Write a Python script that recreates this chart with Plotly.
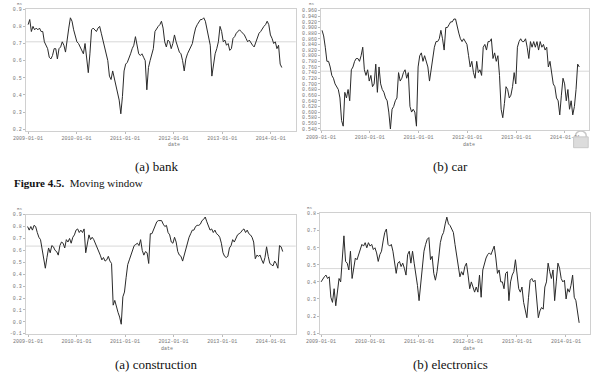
import pandas as pd
import plotly.graph_objects as go

# ---------------- data ----------------
bank_values = [
    0.81, 0.84, 0.77, 0.80, 0.78, 0.79, 0.78, 0.79, 0.77, 0.77,
    0.71, 0.69, 0.67, 0.62, 0.61, 0.63, 0.67, 0.67, 0.61, 0.67,
    0.68, 0.71, 0.69, 0.65, 0.74, 0.79, 0.85, 0.83, 0.78, 0.75,
    0.71, 0.70, 0.68, 0.66, 0.64, 0.70, 0.60, 0.53, 0.64, 0.78,
    0.79, 0.78, 0.77, 0.79, 0.80, 0.76, 0.72, 0.69, 0.64, 0.60,
    0.51, 0.49, 0.54, 0.50, 0.45, 0.41, 0.37, 0.29, 0.39, 0.54,
    0.58, 0.59, 0.61, 0.64, 0.67, 0.69, 0.74, 0.69, 0.64, 0.63,
    0.64, 0.62, 0.60, 0.43, 0.56, 0.60, 0.64, 0.67, 0.77, 0.79,
    0.80, 0.81, 0.83, 0.79, 0.71, 0.68, 0.72, 0.71, 0.67, 0.70,
    0.75, 0.71, 0.68, 0.65, 0.64, 0.60, 0.54, 0.61, 0.64, 0.66,
    0.68, 0.70, 0.75, 0.79, 0.81, 0.83, 0.84, 0.84, 0.85, 0.83,
    0.78, 0.73, 0.69, 0.51, 0.59, 0.64, 0.67, 0.71, 0.80, 0.77,
    0.71, 0.72, 0.69, 0.70, 0.66, 0.67, 0.73, 0.74, 0.76, 0.77,
    0.78, 0.77, 0.76, 0.75, 0.73, 0.71, 0.72, 0.70, 0.69, 0.68,
    0.71, 0.73, 0.76, 0.77, 0.79, 0.80, 0.81, 0.83, 0.81, 0.75,
    0.73, 0.70, 0.71, 0.67, 0.69, 0.58, 0.56,
]

car_values = [
    0.89, 0.87, 0.83, 0.78, 0.78, 0.76, 0.73, 0.72, 0.70, 0.69,
    0.68, 0.65, 0.57, 0.55, 0.67, 0.65, 0.68, 0.64, 0.75, 0.76,
    0.78, 0.79, 0.79, 0.78, 0.80, 0.83, 0.75, 0.73, 0.75, 0.71,
    0.73, 0.69, 0.70, 0.77, 0.67, 0.76, 0.70, 0.68, 0.67, 0.65,
    0.64, 0.60, 0.54, 0.61, 0.62, 0.64, 0.65, 0.74, 0.71, 0.72,
    0.74, 0.75, 0.72, 0.74, 0.62, 0.60, 0.61, 0.60, 0.55, 0.76,
    0.80, 0.81, 0.78, 0.80, 0.78, 0.76, 0.71, 0.75, 0.80, 0.83,
    0.85, 0.85, 0.86, 0.89, 0.86, 0.82, 0.90, 0.90, 0.91, 0.92,
    0.92, 0.93, 0.93, 0.90, 0.88, 0.86, 0.85, 0.86, 0.85, 0.84,
    0.80, 0.76, 0.78, 0.74, 0.72, 0.78, 0.74, 0.75, 0.73, 0.83,
    0.84, 0.82, 0.85, 0.85, 0.86, 0.79, 0.81, 0.78, 0.80, 0.73,
    0.61, 0.58, 0.63, 0.69, 0.68, 0.65, 0.66, 0.69, 0.74, 0.70,
    0.83, 0.85, 0.86, 0.85, 0.85, 0.86, 0.83, 0.79, 0.85, 0.83,
    0.85, 0.83, 0.85, 0.82, 0.85, 0.83, 0.84, 0.82, 0.83, 0.76,
    0.78, 0.74, 0.70, 0.69, 0.65, 0.64, 0.59, 0.66, 0.72, 0.70,
    0.64, 0.68, 0.61, 0.64, 0.59, 0.62, 0.68, 0.77, 0.76,
]

construction_values = [
    0.80, 0.77, 0.80, 0.77, 0.81, 0.80, 0.75, 0.71, 0.69, 0.62,
    0.55, 0.45, 0.54, 0.62, 0.58, 0.64, 0.63, 0.60, 0.59, 0.56,
    0.64, 0.67, 0.66, 0.62, 0.69, 0.67, 0.70, 0.66, 0.71, 0.73,
    0.77, 0.78, 0.75, 0.77, 0.75, 0.78, 0.58, 0.66, 0.73, 0.69,
    0.71, 0.69, 0.66, 0.63, 0.60, 0.56, 0.52, 0.54, 0.51, 0.52,
    0.55, 0.51, 0.49, 0.14, 0.18, 0.12, 0.08, 0.04, -0.02, 0.21,
    0.25, 0.37, 0.48, 0.52, 0.56, 0.60, 0.64, 0.65, 0.66, 0.64,
    0.69, 0.60, 0.56, 0.59, 0.58, 0.49, 0.74, 0.74, 0.77, 0.81,
    0.84, 0.85, 0.85, 0.85, 0.82, 0.80, 0.81, 0.75, 0.73, 0.67,
    0.66, 0.71, 0.67, 0.59, 0.56, 0.55, 0.51, 0.56, 0.60, 0.67,
    0.71, 0.74, 0.77, 0.77, 0.80, 0.81, 0.81, 0.82, 0.85, 0.86,
    0.88, 0.84, 0.80, 0.77, 0.78, 0.75, 0.77, 0.74, 0.73, 0.71,
    0.66, 0.58, 0.55, 0.54, 0.55, 0.62, 0.64, 0.69, 0.67, 0.70,
    0.73, 0.74, 0.75, 0.77, 0.78, 0.75, 0.77, 0.74, 0.73, 0.71,
    0.67, 0.53, 0.56, 0.55, 0.56, 0.52, 0.49, 0.54, 0.63, 0.55,
    0.49, 0.48, 0.47, 0.51, 0.49, 0.45, 0.64, 0.63, 0.59,
]

electronics_values = [
    0.40, 0.42, 0.43, 0.44, 0.42, 0.43, 0.31, 0.28, 0.36, 0.26,
    0.34, 0.42, 0.40, 0.57, 0.67, 0.52, 0.51, 0.47, 0.58, 0.42,
    0.47, 0.54, 0.53, 0.56, 0.59, 0.62, 0.61, 0.63, 0.60, 0.63,
    0.61, 0.62, 0.59, 0.60, 0.57, 0.52, 0.56, 0.58, 0.64, 0.69,
    0.71, 0.62, 0.61, 0.62, 0.58, 0.51, 0.45, 0.51, 0.52, 0.49,
    0.51, 0.48, 0.44, 0.56, 0.58, 0.51, 0.58, 0.51, 0.45, 0.38,
    0.29, 0.38, 0.47, 0.58, 0.62, 0.65, 0.66, 0.53, 0.55, 0.45,
    0.41, 0.46, 0.54, 0.63, 0.67, 0.69, 0.74, 0.78, 0.74, 0.73,
    0.71, 0.69, 0.62, 0.56, 0.51, 0.43, 0.46, 0.44, 0.49, 0.51,
    0.44, 0.36, 0.40, 0.37, 0.34, 0.37, 0.34, 0.44, 0.31, 0.47,
    0.51, 0.54, 0.56, 0.57, 0.56, 0.58, 0.61, 0.54, 0.45, 0.47,
    0.40, 0.40, 0.36, 0.45, 0.46, 0.29, 0.40, 0.44, 0.46, 0.53,
    0.44, 0.36, 0.34, 0.37, 0.28, 0.24, 0.19, 0.31, 0.41, 0.42,
    0.40, 0.41, 0.32, 0.19, 0.23, 0.25, 0.24, 0.37, 0.40, 0.51,
    0.46, 0.42, 0.47, 0.29, 0.40, 0.51, 0.48, 0.42, 0.40, 0.41,
    0.30, 0.36, 0.34, 0.38, 0.44, 0.31, 0.29, 0.21, 0.16,
]

series_start = ["2009-01-01", "2009-01-08", "2008-12-28", "2009-01-01"]
series_end = ["2014-03-26", "2014-04-18", "2014-04-02", "2014-04-10"]
mean_levels = [0.71, 0.745, 0.636, 0.478]

year_ticks = ["2009-01-01", "2010-01-01", "2011-01-01",
              "2012-01-01", "2013-01-01", "2014-01-01"]
bank_yticks = [0.2, 0.3, 0.4, 0.5, 0.6, 0.7, 0.8, 0.9]
car_yticks = [0.54, 0.56, 0.58, 0.60, 0.62, 0.64, 0.66, 0.68, 0.70, 0.72, 0.74,
              0.76, 0.78, 0.80, 0.82, 0.84, 0.86, 0.88, 0.90, 0.92, 0.94, 0.96]
construction_yticks = [-0.1, 0.0, 0.1, 0.2, 0.3, 0.4, 0.5, 0.6, 0.7, 0.8, 0.9]
electronics_yticks = [0.1, 0.2, 0.3, 0.4, 0.5, 0.6, 0.7, 0.8]

captions = ["(a) bank", "(b) car", "(a) construction", "(b) electronics"]

# ---------------- layout geometry (pixels) ----------------
W, H = 596, 385
panels = [
    dict(vals=bank_values, yt=bank_yticks, fmt="%.1f", box=(11, 288, 7, 131),
         yr=[0.19, 0.902], xr=["2008-12-14", "2014-07-09"]),
    dict(vals=car_values, yt=car_yticks, fmt="%.3f", box=(314, 589, 7, 130),
         yr=[0.5365, 0.966], xr=["2009-01-01", "2014-07-01"]),
    dict(vals=construction_values, yt=construction_yticks, fmt="%.1f", box=(11, 288, 216, 337),
         yr=[-0.1, 0.9], xr=["2008-12-14", "2014-07-09"]),
    dict(vals=electronics_values, yt=electronics_yticks, fmt="%.1f", box=(313, 590, 214, 337),
         yr=[0.096, 0.806], xr=["2008-12-25", "2014-07-01"]),
]

fig = go.Figure()
tick_font = dict(family="Liberation Mono", size=5, color="#777")

for i, p in enumerate(panels):
    n = i + 1
    xa = "x" if n == 1 else f"x{n}"
    ya = "y" if n == 1 else f"y{n}"
    dates = pd.date_range(series_start[i], series_end[i], periods=len(p["vals"]))
    fig.add_trace(go.Scatter(x=dates, y=p["vals"], mode="lines",
                             line=dict(color="#2a2a2a", width=1),
                             xaxis=xa, yaxis=ya, showlegend=False))
    x0, x1, y0, y1 = p["box"]
    xkey = "xaxis" if n == 1 else f"xaxis{n}"
    ykey = "yaxis" if n == 1 else f"yaxis{n}"
    fig.update_layout(**{
        xkey: dict(domain=[x0 / W, x1 / W], anchor=ya, type="date", range=p["xr"],
                   tickvals=year_ticks, ticktext=year_ticks,
                   showline=True, mirror=True, linecolor="#d0d0d0", linewidth=1,
                   ticks="outside", ticklen=2, tickcolor="#bbb",
                   showgrid=False, zeroline=False, tickfont=tick_font),
        ykey: dict(domain=[1 - y1 / H, 1 - y0 / H], anchor=xa, range=p["yr"],
                   tickvals=p["yt"], ticktext=[p["fmt"] % v for v in p["yt"]],
                   showline=True, mirror=True, linecolor="#d0d0d0", linewidth=1,
                   ticks="outside", ticklen=2, tickcolor="#bbb",
                   showgrid=False, zeroline=False, tickfont=tick_font),
    })
    fig.add_shape(type="line", xref=f"{xa} domain", yref=ya, x0=0, x1=1,
                  y0=mean_levels[i], y1=mean_levels[i],
                  line=dict(color="#d8d8d8", width=1), layer="below")

# small grey watermark icon at the lower right of the car panel
fig.add_shape(type="rect", xref="paper", yref="paper",
              x0=573 / W, x1=588 / W, y0=1 - 148 / H, y1=1 - 137 / H,
              line=dict(color="#c8c8c8", width=1), fillcolor="#dcdcdc")
fig.add_shape(type="circle", xref="paper", yref="paper",
              x0=575 / W, x1=586 / W, y0=1 - 141 / H, y1=1 - 131 / H,
              line=dict(color="#c8c8c8", width=1.5), fillcolor="rgba(0,0,0,0)",
              layer="below")

annotations = []


def note(cx, cy, text, font, xanchor="center"):
    annotations.append(dict(x=cx / W, y=1 - cy / H, xref="paper", yref="paper",
                            xanchor=xanchor, yanchor="middle",
                            text=text, showarrow=False, font=font))


small = dict(family="Liberation Mono", size=5, color="#777")
# axis titles
for (cx, cy) in [(163, 145), (466, 145), (156, 352), (466, 352)]:
    note(cx, cy, "date", small)
for (cx, cy) in [(5, 2), (304, 2), (5, 210), (302, 209)]:
    note(cx, cy, "RS", dict(family="Liberation Mono", size=4, color="#777"))
# captions
cap_pos = [(145, 167), (447, 167), (145, 368), (447, 368)]
serif = dict(family="Liberation Serif", size=13, color="#111")
for txt, (cx, cy) in zip(captions, cap_pos):
    note(cx, cy, txt, serif)
note(-3, 184, "<b>Figure 4.5.</b>  Moving window",
     dict(family="Liberation Serif", size=11, color="#111"), xanchor="left")

fig.update_layout(width=W, height=H, autosize=False,
                  margin=dict(l=0, r=0, t=0, b=0),
                  paper_bgcolor="white", plot_bgcolor="white",
                  annotations=annotations)

fig.write_html("out.html")
